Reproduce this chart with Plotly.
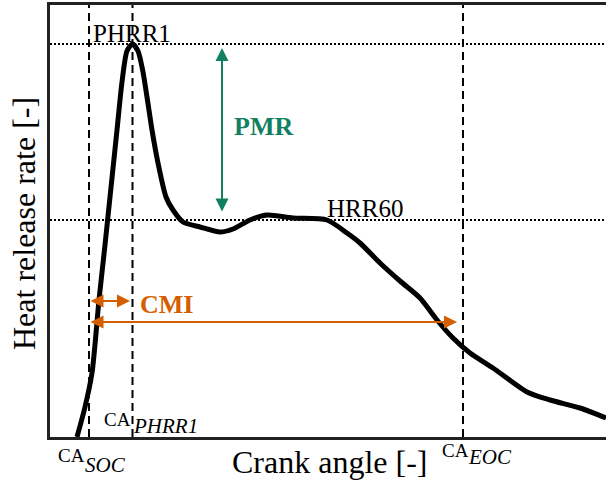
import plotly.graph_objects as go

# Heat release rate curve (arbitrary units)
crank = [27, 35, 42, 49, 55, 60, 67, 72, 77, 82.5, 88, 93, 97, 102, 108, 116, 123,
         133, 150, 170, 183, 200, 217, 243, 277, 297, 310, 330, 350, 370, 387, 403, 420, 443, 477, 500,
         530, 556]
hrr = [0, 30, 64, 137, 192, 240, 307, 355, 386, 393, 386, 365, 340, 307, 274,
       240, 227, 215, 210, 205, 208, 217, 222, 219, 217, 204, 194, 174, 156, 139, 117, 99, 84, 69, 45,
       37, 29, 19]

ca_soc, ca_phrr1, ca_eoc = 39, 82.5, 413
phrr1, hrr60 = 393, 217
x_max, y_max = 556, 432

SERIF = "Liberation Serif"
GREEN = "#128060"
ORANGE = "#D55E00"

fig = go.Figure()
fig.add_trace(go.Scatter(x=crank, y=hrr, mode="lines",
                         line=dict(color="black", width=5, shape="spline", smoothing=0.7),
                         hoverinfo="skip", showlegend=False))

shapes = []
for xv in [ca_soc, ca_phrr1, ca_eoc]:
    shapes.append(dict(type="line", xref="x", yref="paper", x0=xv, x1=xv, y0=0, y1=1,
                       line=dict(color="black", width=2, dash="8px,5px")))
for yv in [phrr1, hrr60]:
    shapes.append(dict(type="line", xref="paper", yref="y", x0=0, x1=1, y0=yv, y1=yv,
                       line=dict(color="black", width=2, dash="2px,2px")))

ann = []
def txt(x, y, s, size, color="black", yref="y", xref="x", **kw):
    ann.append(dict(x=x, y=y, xref=xref, yref=yref, text=s, showarrow=False,
                    xanchor="center", yanchor="middle",
                    font=dict(family=SERIF, size=size, color=color), **kw))

def arrow(x0, y0, x1, y1, color):
    ann.append(dict(x=x1, y=y1, ax=x0, ay=y0, xref="x", yref="y", axref="x", ayref="y",
                    text="", showarrow=True, arrowhead=2, startarrowhead=2,
                    arrowside="end+start", arrowsize=1.3, startarrowsize=1.3,
                    arrowwidth=2, arrowcolor=color))

txt(82, 404, "PHRR1", 25)
txt(315, 229, "HRR60", 25)
txt(213, 311, "<b>PMR</b>", 26, GREEN)
txt(116, 133, "<b>CMI</b>", 26, ORANGE)

arrow(172, 224, 172, 389, GREEN)
arrow(ca_soc, 136, 80, 136, ORANGE)
arrow(ca_soc, 115, 407, 115, ORANGE)

# tick-like labels
def py(v):
    return v / y_max
txt(67.5, 18, "CA", 19)
txt(115, 11, "<i>PHRR1</i>", 21)
txt(21, py(-19), "CA", 19, yref="paper")
txt(55, py(-28), "<i>SOC</i>", 21, yref="paper")
txt(405, py(-13), "CA", 19, yref="paper")
txt(440, py(-20), "<i>EOC</i>", 21, yref="paper")

# axis titles
txt(279, py(-25), "Crank angle [-]", 32, yref="paper")
txt(-26 / x_max, 213, "Heat release rate [-]", 32, xref="paper", textangle=-90)

fig.update_layout(
    width=606, height=483,
    margin=dict(l=50, r=0, t=5, b=46),
    paper_bgcolor="white", plot_bgcolor="white",
    shapes=shapes, annotations=ann,
    xaxis=dict(range=[0, x_max], showgrid=False, zeroline=False, showticklabels=False, ticks="",
               showline=True, mirror=True, linecolor="#222", linewidth=3),
    yaxis=dict(range=[0, y_max], showgrid=False, zeroline=False, showticklabels=False, ticks="",
               showline=True, mirror=False, linecolor="#222", linewidth=3),
)
fig.write_html("out.html")
